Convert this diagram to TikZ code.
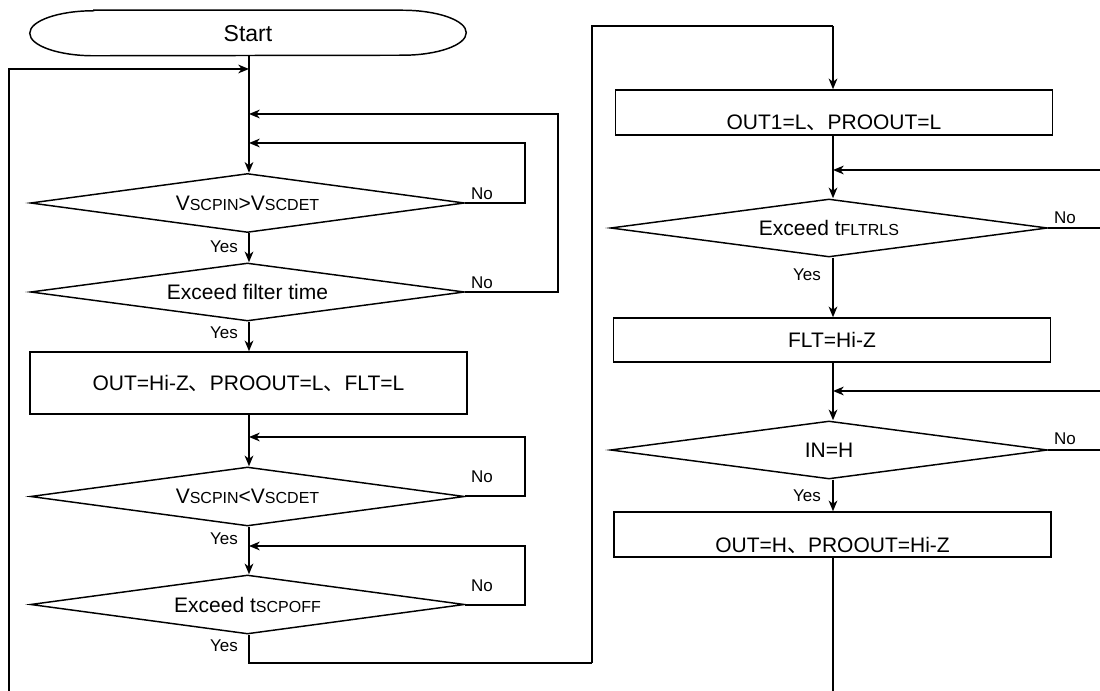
\documentclass[tikz,border=0pt]{standalone}
\usepackage{fontspec}
\setmainfont{Liberation Sans}
\newfontfamily\cjkfont{Noto Sans CJK SC}
\usetikzlibrary{shapes.geometric,arrows.meta}
\newcommand{\dun}{{\cjkfont 、}}
\newcommand{\subt}[1]{{\fontsize{12}{13}\selectfont #1}}
\begin{document}
\begin{tikzpicture}[x=0.75pt,y=-0.75pt,
  mainfont/.style={font=\fontsize{15.75}{18}\selectfont},
  dec/.style={draw, line width=1.1pt, shape=diamond, aspect=7.4, inner sep=0pt,
    minimum width=325.5pt, minimum height=44.25pt, mainfont},
  box/.style={draw, line width=1.1pt, rectangle, inner sep=0pt,
    minimum width=327.75pt, mainfont, text height=11.3pt, text depth=0pt},
  term/.style={inner sep=0pt, minimum width=327pt, minimum height=33.75pt,
    font=\fontsize{17.25}{20}\selectfont, text height=12.35pt, text depth=0pt},
  lbl/.style={font=\fontsize{12.75}{14}\selectfont, inner sep=0pt},
  flow/.style={line width=1.5pt, -{Stealth[length=8pt,width=6.5pt,inset=2.4pt]}},
  wire/.style={line width=1.5pt},
  thinwire/.style={line width=1.1pt}]

\useasboundingbox (0,0) rectangle (1100,691);
\coordinate (mx) at (249,0);
\coordinate (rx) at (833,0);

% ---------- left column ----------
\node[term] (st) at (248,33) {Start};
\draw[line width=1.1pt] ([xshift=48pt]st.north west) -- ([xshift=-48pt]st.north east)
  arc[start angle=90, end angle=-90, x radius=48pt, y radius=16.875pt]
  -- ([xshift=48pt]st.south west)
  arc[start angle=270, end angle=90, x radius=48pt, y radius=16.875pt] -- cycle;

\node[dec] (d1) at (247.5,203) {V\subt{SCPIN}>V\subt{SCDET}};
\node[dec, minimum height=43.5pt] (d2) at (247.5,292) {Exceed filter time};
\node[box, minimum height=46.5pt] (b1) at (248.5,383) {OUT=Hi-Z\dun PROOUT=L\dun FLT=L};
\node[dec] (d3) at (247.5,496.5) {V\subt{SCPIN}<V\subt{SCDET}};
\node[dec] (d4) at (247.5,604.5) {Exceed t\subt{SCPOFF}};

% ---------- right column ----------
\node[box, minimum height=33.75pt, text height=25.55pt] (b2) at (834,112.5) {OUT1=L\dun PROOUT=L};
\node[dec, minimum height=43.5pt, minimum width=327.75pt] (d5) at (829,228) {Exceed t\subt{FLTRLS}};
\node[box, minimum height=33pt] (b3) at (832,340) {FLT=Hi-Z};
\node[dec, minimum height=43.5pt, minimum width=327.75pt] (d6) at (829,450) {IN=H};
\node[box, minimum height=33.75pt, text height=27pt] (b4) at (832.5,534.5) {OUT=H\dun PROOUT=Hi-Z};

% ---------- labels ----------
\node[lbl] (n1) at (482,194) {No};
\node[lbl] (n2) at (482,283) {No};
\node[lbl] (n3) at (482,477) {No};
\node[lbl] (n4) at (482,586) {No};
\node[lbl] (n5) at (1065,218) {No};
\node[lbl] (n6) at (1065,439) {No};
\node[lbl] (y1) at (224,247) {Yes};
\node[lbl] (y2) at (224,333) {Yes};
\node[lbl] (y3) at (224,539) {Yes};
\node[lbl] (y4) at (224,646) {Yes};
\node[lbl] (y5) at (807,275) {Yes};
\node[lbl] (y6) at (807,496) {Yes};

% ---------- junction / corner coordinates ----------
\coordinate (j0) at (249,69);
\coordinate (j1) at (249,143);
\coordinate (j2) at (249,114);
\coordinate (j3) at (249,437);
\coordinate (j4) at (249,546);
\coordinate (c1) at (525,143);
\coordinate (c2) at (558,114);
\coordinate (c3) at (525,437);
\coordinate (c4) at (525,546);
\coordinate (lb) at (9,694);
\coordinate (c5) at (592,663);
\coordinate (c6) at (592,26);
\coordinate (c7) at (833,26);
\coordinate (j5) at (833,170);
\coordinate (j6) at (833,391);
\coordinate (c8) at (1106,170);
\coordinate (c9) at (1106,391);
\coordinate (rb) at (833,694);

% ---------- left flow ----------
\draw[flow] (st.south -| mx) -- (d1.north -| mx);
\draw[flow] (d1.south -| mx) -- (d2.north -| mx);
\draw[flow] (d2.south -| mx) -- (b1.north -| mx);
\draw[flow] (b1.south -| mx) -- (d3.north -| mx);
\draw[flow] (d3.south -| mx) -- (d4.north -| mx);

\draw[flow] (lb) |- (j0);
\draw[flow] (d1.east) -| (c1) -- (j1);
\draw[flow] (d2.east) -| (c2) -- (j2);
\draw[flow] (d3.east) -| (c3) -- (j3);
\draw[flow] (d4.east) -| (c4) -- (j4);

\draw[wire] (d4.south -| mx) |- (c5);
\draw[thinwire] (c5) -- (c6) -- (c7);
\draw[flow] (c7) -- (b2.north -| rx);

% ---------- right flow ----------
\draw[flow] (b2.south -| rx) -- (d5.north -| rx);
\draw[flow] (d5.south -| rx) -- (b3.north -| rx);
\draw[flow] (b3.south -| rx) -- (d6.north -| rx);
\draw[flow] (d6.south -| rx) -- (b4.north -| rx);
\draw[flow] (d5.east) -| (c8) -- (j5);
\draw[flow] (d6.east) -| (c9) -- (j6);
\draw[thinwire] (b4.south -| rx) -- (rb);
\end{tikzpicture}
\end{document}
